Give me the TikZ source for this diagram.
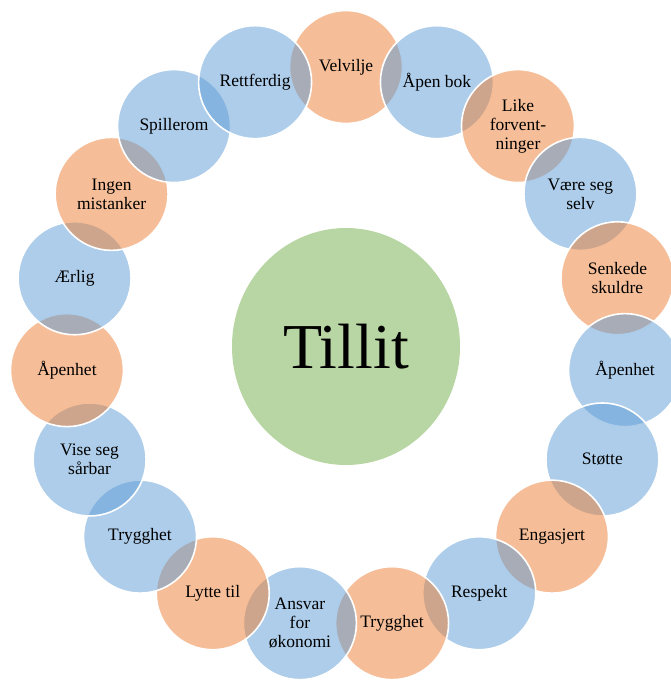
\documentclass[tikz,border=0pt]{standalone}
\usepackage{fontspec}
\setmainfont{Liberation Serif}
\usetikzlibrary{shapes.geometric,calc}

\definecolor{petalblue}{HTML}{5B9BD5}
\definecolor{petalorange}{HTML}{ED7D31}
\definecolor{coregreen}{HTML}{70AD47}

\tikzset{
  petal/.style={circle, minimum size=113pt, inner sep=0pt, align=center,
    fill opacity=0.5, text opacity=1, draw=white, draw opacity=1,
    line width=1.6pt, font=\fontsize{17.5}{19}\selectfont},
  B/.style={petal, fill=petalblue},
  O/.style={petal, fill=petalorange},
  core/.style={ellipse, minimum width=228pt, minimum height=237pt, inner sep=0pt,
    fill=coregreen, fill opacity=0.5, text opacity=1, draw=none,
    font=\fontsize{64}{70}\selectfont}
}

\begin{document}
\begin{tikzpicture}[x=1pt, y=-1pt]
  \useasboundingbox (0,0) rectangle (670,684);
  \coordinate (ring) at (346,347);

  \node[core] (tillit) at (346,346.5) {Tillit};

  % nineteen petals, clockwise from the top, each drawn over the previous one
  \foreach \txt/\sty [count=\i from 0] in {
      Velvilje/O, {Åpen bok}/B, {Like\\forvent-\\ninger}/O, {Være seg\\selv}/B,
      {Senkede\\skuldre}/O, Åpenhet/B, Støtte/B, Engasjert/O, Respekt/B,
      Trygghet/O, {Ansvar\\for\\økonomi}/B, {Lytte til}/O, Trygghet/B,
      {Vise seg\\sårbar}/B, Åpenhet/O, Ærlig/B, {Ingen\\mistanker}/O,
      Spillerom/B, Rettferdig/B}
  {
    \node[\sty] (p\i) at ($(ring)+(-90+\i*360/19:280)$) {\txt};
  }
\end{tikzpicture}
\end{document}
